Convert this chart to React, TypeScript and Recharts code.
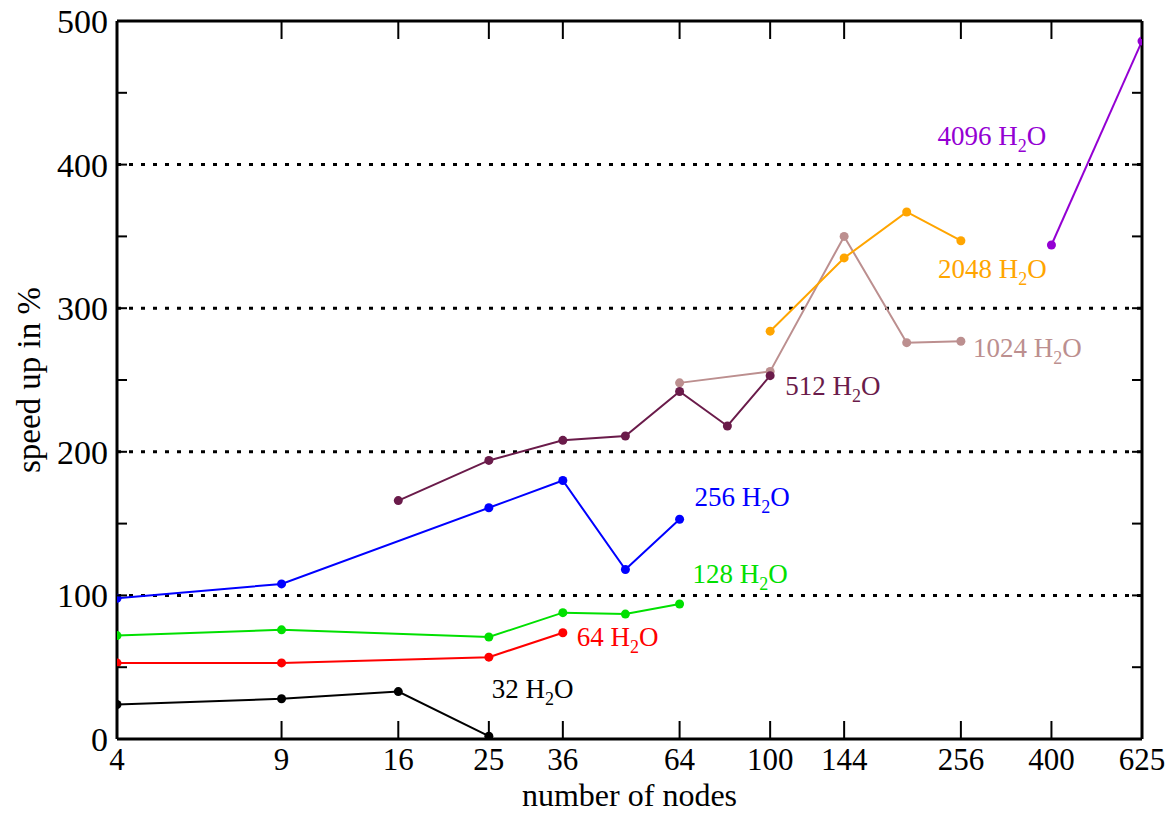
import { LineChart, Line, XAxis, YAxis, ReferenceLine, LabelList } from "recharts";

const serif = "'Liberation Serif', 'Times New Roman', serif";

// node counts (x) and speed up in % (y)
const nodes32 = [4, 9, 16, 25];
const speedup32 = [24, 28, 33, 2];
const nodes64 = [4, 9, 25, 36];
const speedup64 = [53, 53, 57, 74];
const nodes128 = [4, 9, 25, 36, 49, 64];
const speedup128 = [72, 76, 71, 88, 87, 94];
const nodes256 = [4, 9, 25, 36, 49, 64];
const speedup256 = [98, 108, 161, 180, 118, 153];
const nodes512 = [16, 25, 36, 49, 64, 81, 100];
const speedup512 = [166, 194, 208, 211, 242, 218, 253];
const nodes1024 = [64, 100, 144, 196, 256];
const speedup1024 = [248, 256, 350, 276, 277];
const nodes2048 = [100, 144, 196, 256];
const speedup2048 = [284, 335, 367, 347];
const nodes4096 = [400, 625];
const speedup4096 = [344, 486];

const xTicks = [4, 9, 16, 25, 36, 64, 100, 144, 256, 400, 625];
const yTicks = [0, 50, 100, 150, 200, 250, 300, 350, 400, 450, 500];
const gridValues = [100, 200, 300, 400];

const zip = (xs: number[], ys: number[]) => xs.map((n, i) => ({ nodes: n, speedup: ys[i] }));

// drawing order, colour and where the "N H2O" label sits relative to one point
const series = [
  { name: "32", data: zip(nodes32, speedup32), color: "#000000", at: 3, dx: 3, dy: -38 },
  { name: "64", data: zip(nodes64, speedup64), color: "#ff0000", at: 3, dx: 14, dy: 13 },
  { name: "128", data: zip(nodes128, speedup128), color: "#00e000", at: 5, dx: 13, dy: -21 },
  { name: "256", data: zip(nodes256, speedup256), color: "#0000ff", at: 5, dx: 15, dy: -13 },
  { name: "1024", data: zip(nodes1024, speedup1024), color: "#bc8f8f", at: 4, dx: 12, dy: 16 },
  { name: "512", data: zip(nodes512, speedup512), color: "#6a1b4a", at: 6, dx: 15, dy: 19 },
  { name: "2048", data: zip(nodes2048, speedup2048), color: "#ffa500", at: 3, dx: -23, dy: 37 },
  { name: "4096", data: zip(nodes4096, speedup4096), color: "#9400d3", at: 0, dx: -114, dy: -100 },
];

const BottomTick = ({ x, y, payload }: any) => (
  <g>
    <line x1={x} x2={x} y1={y} y2={y - 18} stroke="#000" strokeWidth={2} />
    <text x={x} y={y + 31} textAnchor="middle" fontSize={31} fontFamily={serif} fill="#000">
      {payload.value}
    </text>
  </g>
);

const TopTick = ({ x, y }: any) => (
  <line x1={x} x2={x} y1={y} y2={y + 18} stroke="#000" strokeWidth={2} />
);

const LeftTick = ({ x, y, payload }: any) => (
  <g>
    <line x1={x} x2={x + 10} y1={y} y2={y} stroke="#000" strokeWidth={2} />
    {payload.value % 100 === 0 && (
      <text x={x - 9} y={y} dy="0.35em" textAnchor="end" fontSize={34} fontFamily={serif} fill="#000">
        {payload.value}
      </text>
    )}
  </g>
);

const RightTick = ({ x, y }: any) => (
  <line x1={x} x2={x - 10} y1={y} y2={y} stroke="#000" strokeWidth={2} />
);

const XTitle = ({ viewBox }: any) => (
  <text
    x={viewBox.x + viewBox.width / 2}
    y={viewBox.y + 67}
    textAnchor="middle"
    fontSize={32}
    fontFamily={serif}
    fill="#000"
  >
    number of nodes
  </text>
);

const YTitle = ({ viewBox }: any) => {
  const cx = viewBox.x + 30;
  const cy = viewBox.y + viewBox.height / 2;
  return (
    <text
      x={cx}
      y={cy}
      dy="0.3em"
      transform={`rotate(-90, ${cx}, ${cy})`}
      textAnchor="middle"
      fontSize={33}
      fontFamily={serif}
      fill="#000"
    >
      speed up in %
    </text>
  );
};

const waterLabel = (name: string, color: string, at: number, dx: number, dy: number) => (p: any) => {
  if (p.index !== at) return null;
  return (
    <text x={p.x + dx} y={p.y + dy} fill={color} fontSize={27} fontFamily={serif}>
      {name} H<tspan dy={7} fontSize={18}>2</tspan>
      <tspan dy={-7}>O</tspan>
    </text>
  );
};

const axisLine = { stroke: "#000", strokeWidth: 3 };

export default function App() {
  return (
    <div style={{ position: "fixed", left: 0, top: 0, width: 1172, height: 813, background: "#fff" }}>
      <LineChart width={1172} height={813} margin={{ top: 1, right: 20, bottom: 14, left: 0 }}>
        <XAxis
          dataKey="nodes"
          type="number"
          scale="log"
          domain={[4, 625]}
          ticks={xTicks}
          interval={0}
          allowDataOverflow
          height={60}
          tickSize={0}
          tickMargin={0}
          tickLine={false}
          axisLine={axisLine}
          tick={<BottomTick />}
          label={<XTitle />}
        />
        <XAxis
          xAxisId="top"
          orientation="top"
          dataKey="nodes"
          type="number"
          scale="log"
          domain={[4, 625]}
          ticks={xTicks}
          interval={0}
          allowDataOverflow
          height={20}
          tickSize={0}
          tickMargin={0}
          tickLine={false}
          axisLine={axisLine}
          tick={<TopTick />}
        />
        <YAxis
          type="number"
          domain={[0, 500]}
          ticks={yTicks}
          interval={0}
          allowDataOverflow
          width={117}
          tickSize={0}
          tickMargin={0}
          tickLine={false}
          axisLine={axisLine}
          tick={<LeftTick />}
          label={<YTitle />}
        />
        <YAxis
          yAxisId="right"
          orientation="right"
          type="number"
          domain={[0, 500]}
          ticks={yTicks}
          interval={0}
          allowDataOverflow
          width={10}
          tickSize={0}
          tickMargin={0}
          tickLine={false}
          axisLine={axisLine}
          tick={<RightTick />}
        />
        {gridValues.map((v) => (
          <ReferenceLine key={v} y={v} stroke="#000" strokeWidth={3} strokeDasharray="4 8" />
        ))}
        {series.map((s) => (
          <Line
            key={s.name}
            data={s.data}
            dataKey="speedup"
            stroke={s.color}
            strokeWidth={2}
            dot={{ r: 4.5, fill: s.color, stroke: s.color, strokeWidth: 0 }}
            isAnimationActive={false}
          >
            <LabelList dataKey="speedup" content={waterLabel(s.name, s.color, s.at, s.dx, s.dy)} />
          </Line>
        ))}
      </LineChart>
    </div>
  );
}
